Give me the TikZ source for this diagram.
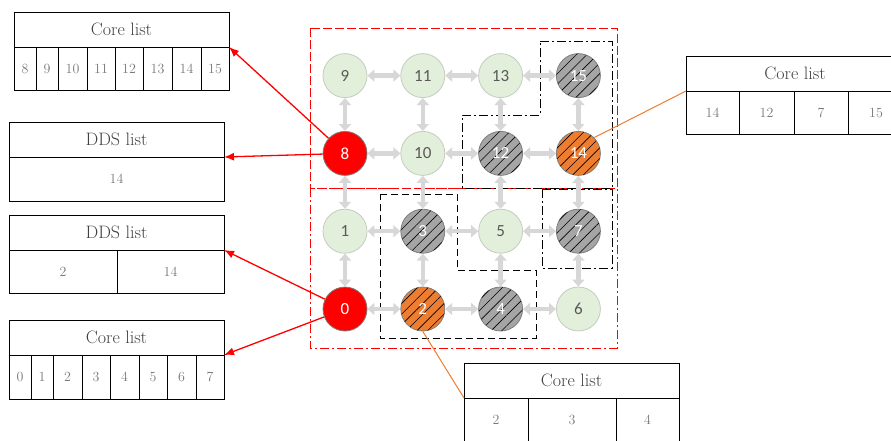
\documentclass[tikz,border=0pt]{standalone}
\usepackage{fontspec}
\usepackage{tikz}
\usetikzlibrary{arrows.meta, positioning, patterns.meta}
\newfontfamily\corefont{Carlito}
\definecolor{meshgreen}{RGB}{226,239,218}
\definecolor{freeedge}{RGB}{196,204,190}
\definecolor{darkedge}{RGB}{125,125,125}
\definecolor{srcred}{RGB}{255,0,0}
\definecolor{busygray}{RGB}{165,165,165}
\definecolor{ddsorange}{RGB}{237,125,49}
\definecolor{linkgray}{RGB}{215,215,215}
\definecolor{numgray}{RGB}{89,89,89}
\definecolor{headgray}{RGB}{64,64,64}
\definecolor{cellgray}{RGB}{120,120,120}

\begin{document}
\begin{tikzpicture}[x=1pt, y=-1pt,
  core/.style={circle, minimum size=44pt, inner sep=0pt, line width=0.8pt,
    font=\corefont\fontsize{17}{17}\selectfont},
  freecore/.style={core, draw=freeedge, fill=meshgreen, text=numgray},
  srccore/.style={core, draw=darkedge, fill=srcred, text=white},
  busycore/.style={core, draw=darkedge, fill=busygray, text=white,
    postaction={pattern={Lines[angle=45, distance=7.5pt, line width=0.6pt]}, pattern color=black}},
  ddscore/.style={busycore, fill=ddsorange},
  link/.style={{Triangle[length=7pt, width=12pt]}-{Triangle[length=7pt, width=12pt]},
    draw=linkgray, line width=4.5pt},
  listhead/.style={draw=black, line width=1pt, outer sep=0pt, inner sep=0pt,
    minimum height=35pt, text=headgray, font=\fontsize{18}{18}\selectfont},
  listcell/.style={draw=black, line width=1pt, outer sep=0pt, inner sep=0pt,
    minimum height=43pt, text=cellgray, font=\fontsize{14}{14}\selectfont},
  redarr/.style={-{Latex[length=10pt, width=8pt]}, draw=red, line width=1.3pt},
  ddsline/.style={draw=ddsorange, line width=1pt},
  zonedashed/.style={dash pattern=on 9pt off 3pt},
  zonedashdot/.style={dash pattern=on 9pt off 3pt on 2pt off 3pt},
  node distance=33pt
]
\useasboundingbox (0,0) rectangle (891,440);

% partitions of the mesh
\draw[red, line width=1pt, zonedashed] (310,28) rectangle (617,188);
\draw[red, line width=1pt, zonedashdot] (310,188) rectangle (617,348);
\draw[black, line width=1pt, zonedashdot] (540,41) -- (612,41) -- (612,188) -- (462,188)
  -- (462,115) -- (540,115) -- cycle;
\draw[black, line width=1pt, zonedashdot] (542,189) rectangle (612,268);
\draw[black, line width=1pt, dash pattern=on 7pt off 4pt] (380,194) -- (457,194) -- (457,270)
  -- (536,270) -- (536,338) -- (380,338) -- cycle;

% 4x4 mesh of cores
\node[srccore] (c0) at (345,309) {0};
\node[ddscore, right=of c0] (c2) {2};
\node[busycore, right=of c2] (c4) {4};
\node[freecore, right=of c4] (c6) {6};
\node[freecore, above=of c0] (c1) {1};
\node[busycore, above=of c2] (c3) {3};
\node[freecore, above=of c4] (c5) {5};
\node[busycore, above=of c6] (c7) {7};
\node[srccore, above=of c1] (c8) {8};
\node[freecore, above=of c3] (c10) {10};
\node[busycore, above=of c5] (c12) {12};
\node[ddscore, above=of c7] (c14) {14};
\node[freecore, above=of c8] (c9) {9};
\node[freecore, above=of c10] (c11) {11};
\node[freecore, above=of c12] (c13) {13};
\node[busycore, above=of c14] (c15) {15};

\draw[link] (c9) -- (c11);
\draw[link] (c11) -- (c13);
\draw[link] (c13) -- (c15);
\draw[link] (c8) -- (c10);
\draw[link] (c10) -- (c12);
\draw[link] (c12) -- (c14);
\draw[link] (c1) -- (c3);
\draw[link] (c3) -- (c5);
\draw[link] (c5) -- (c7);
\draw[link] (c0) -- (c2);
\draw[link] (c2) -- (c4);
\draw[link] (c4) -- (c6);
\draw[link] (c9) -- (c8);
\draw[link] (c8) -- (c1);
\draw[link] (c1) -- (c0);
\draw[link] (c11) -- (c10);
\draw[link] (c10) -- (c3);
\draw[link] (c3) -- (c2);
\draw[link] (c13) -- (c12);
\draw[link] (c12) -- (c5);
\draw[link] (c5) -- (c4);
\draw[link] (c15) -- (c14);
\draw[link] (c14) -- (c7);
\draw[link] (c7) -- (c6);

% core list of the upper half
\node[listhead, minimum width=215pt, anchor=north west] (corehi) at (14,12) {Core list};
\node[listcell, minimum width=22pt, below right=0pt of corehi.south west] (corehi8) {8};
\node[listcell, minimum width=22pt, right=0pt of corehi8] (corehi9) {9};
\node[listcell, minimum width=29pt, right=0pt of corehi9] (corehi10) {10};
\node[listcell, minimum width=28pt, right=0pt of corehi10] (corehi11) {11};
\node[listcell, minimum width=28pt, right=0pt of corehi11] (corehi12) {12};
\node[listcell, minimum width=29pt, right=0pt of corehi12] (corehi13) {13};
\node[listcell, minimum width=29pt, right=0pt of corehi13] (corehi14) {14};
\node[listcell, minimum width=28pt, right=0pt of corehi14] (corehi15) {15};

% DDS lists
\node[listhead, minimum width=215pt, anchor=north west] (ddshi) at (9,122) {DDS list};
\node[listcell, minimum width=215pt, minimum height=44pt, below right=0pt of ddshi.south west] (ddshi14) {14};

\node[listhead, minimum width=215pt, anchor=north west] (ddslo) at (9,215) {DDS list};
\node[listcell, minimum width=108pt, below right=0pt of ddslo.south west] (ddslo2) {2};
\node[listcell, minimum width=107pt, right=0pt of ddslo2] (ddslo14) {14};

% core list of the lower half
\node[listhead, minimum width=215pt, anchor=north west] (corelo) at (9,320) {Core list};
\node[listcell, minimum width=22pt, minimum height=44pt, below right=0pt of corelo.south west] (corelo0) {0};
\node[listcell, minimum width=22pt, minimum height=44pt, right=0pt of corelo0] (corelo1) {1};
\node[listcell, minimum width=29pt, minimum height=44pt, right=0pt of corelo1] (corelo2) {2};
\node[listcell, minimum width=28pt, minimum height=44pt, right=0pt of corelo2] (corelo3) {3};
\node[listcell, minimum width=29pt, minimum height=44pt, right=0pt of corelo3] (corelo4) {4};
\node[listcell, minimum width=28pt, minimum height=44pt, right=0pt of corelo4] (corelo5) {5};
\node[listcell, minimum width=29pt, minimum height=44pt, right=0pt of corelo5] (corelo6) {6};
\node[listcell, minimum width=28pt, minimum height=44pt, right=0pt of corelo6] (corelo7) {7};

% core lists kept by the DDS cores
\node[listhead, minimum width=218pt, anchor=north west] (coredds14) at (686,56) {Core list};
\node[listcell, minimum width=53pt, below right=0pt of coredds14.south west] (coredds14a) {14};
\node[listcell, minimum width=55pt, right=0pt of coredds14a] (coredds14b) {12};
\node[listcell, minimum width=54pt, right=0pt of coredds14b] (coredds14c) {7};
\node[listcell, minimum width=56pt, right=0pt of coredds14c] (coredds14d) {15};

\node[listhead, minimum width=215pt, anchor=north west] (coredds2) at (464,363) {Core list};
\node[listcell, minimum width=64pt, below right=0pt of coredds2.south west] (coredds2a) {2};
\node[listcell, minimum width=88pt, right=0pt of coredds2a] (coredds2b) {3};
\node[listcell, minimum width=63pt, right=0pt of coredds2b] (coredds2c) {4};

% pointers from the source cores
\draw[redarr] (c8) -- (corehi.south east);
\draw[redarr] (c8) -- (ddshi.south east);
\draw[redarr] (c0) -- (ddslo.south east);
\draw[redarr] (c0) -- (corelo.south east);

\draw[ddsline] (c14.north east) -- (coredds14.south west);
\draw[ddsline] (c2.south) -- (coredds2.south west);

\end{tikzpicture}
\end{document}
